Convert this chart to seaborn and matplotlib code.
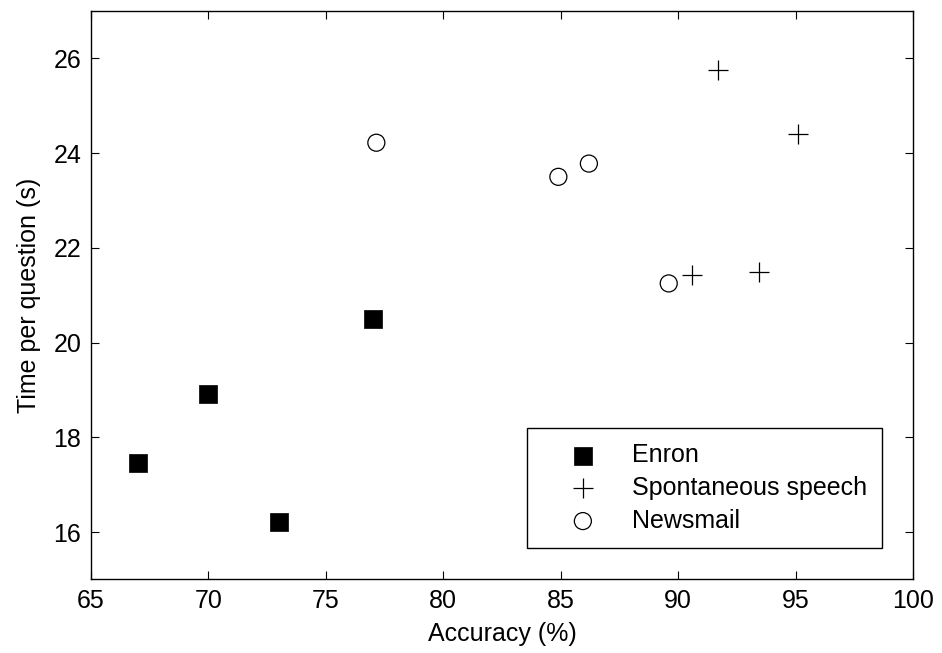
import matplotlib
matplotlib.use('Agg')
import matplotlib.pyplot as plt
import pandas as pd
import seaborn as sns

sns.set_style("ticks")
plt.rcParams['font.family'] = ['Liberation Sans', 'DejaVu Sans']
plt.rcParams['text.color'] = 'black'
plt.rcParams['axes.labelcolor'] = 'black'

# accuracy (%) and time per question (s) for each corpus
enron_acc = [67, 70, 73, 77]
enron_time = [17.45, 18.92, 16.22, 20.5]
speech_acc = [90.6, 91.7, 93.45, 95.1]
speech_time = [21.42, 25.75, 21.5, 24.4]
newsmail_acc = [77.15, 84.9, 86.2, 89.6]
newsmail_time = [24.22, 23.5, 23.78, 21.25]

enron = pd.DataFrame({"acc": enron_acc, "time": enron_time})
speech = pd.DataFrame({"acc": speech_acc, "time": speech_time})
newsmail = pd.DataFrame({"acc": newsmail_acc, "time": newsmail_time})

FS = 18

fig = plt.figure(figsize=(9.42, 6.53), dpi=100)
ax = fig.add_axes([0.0966, 0.1126, 0.8726, 0.8705])

sns.scatterplot(data=enron, x="acc", y="time", marker="s", s=150,
                color="black", edgecolor="black", linewidth=0.5, label="Enron", ax=ax)
sns.scatterplot(data=speech, x="acc", y="time", marker="+", s=200,
                color="black", linewidth=0.9, label="Spontaneous speech", ax=ax)
sns.scatterplot(data=newsmail, x="acc", y="time", marker="o", s=150,
                facecolor="none", edgecolor="black", linewidth=0.9, label="Newsmail", ax=ax)

ax.set_xlim(65, 100)
ax.set_ylim(15, 27)
ax.set_xticks(range(65, 101, 5))
ax.set_yticks(range(16, 27, 2))
ax.set_xlabel("Accuracy (%)", fontsize=FS, labelpad=6)
ax.set_ylabel("Time per question (s)", fontsize=FS, labelpad=9)
ax.tick_params(direction="in", length=6, width=0.8, labelsize=FS,
               top=True, right=True, colors="black", labelcolor="black")
ax.tick_params(axis="x", pad=7)
ax.tick_params(axis="y", pad=7)
for sp in ax.spines.values():
    sp.set_linewidth(1.0)
    sp.set_color("black")

leg = ax.legend(loc="lower right", bbox_to_anchor=(0.962, 0.056), fontsize=FS,
                frameon=True, fancybox=False, edgecolor="black", framealpha=1,
                borderpad=0.6, handlelength=3.3, handletextpad=0.3,
                borderaxespad=0, labelspacing=0.35)
leg.get_frame().set_linewidth(1.0)

fig.savefig("out.png", dpi=100)
